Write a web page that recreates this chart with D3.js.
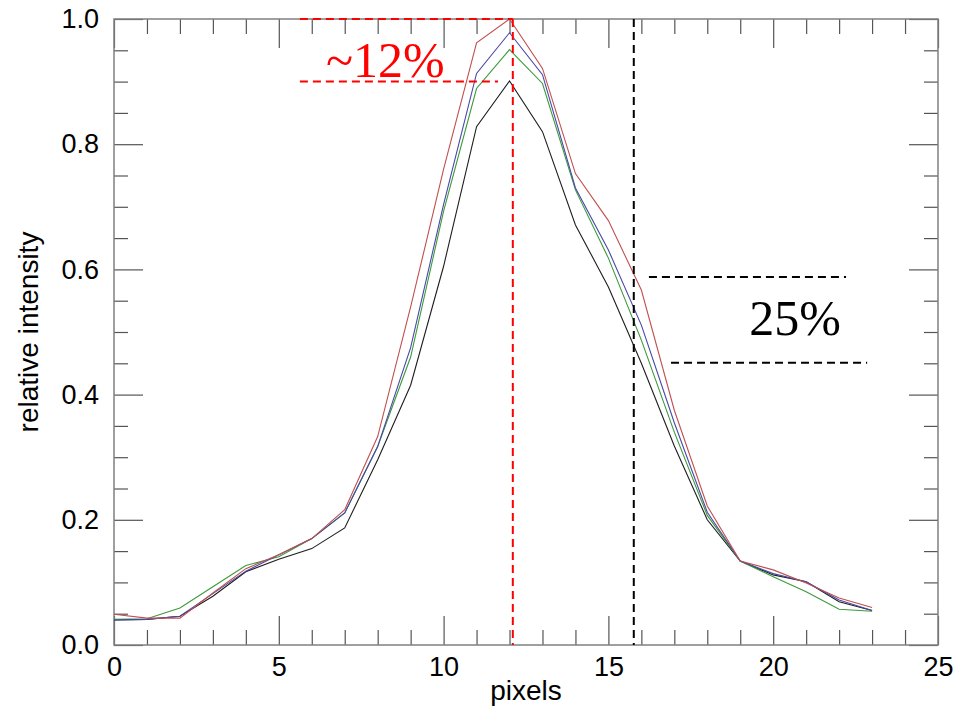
<!DOCTYPE html>
<html>
<head>
<meta charset="utf-8">
<script src="https://cdn.jsdelivr.net/npm/d3@7/dist/d3.min.js"></script>
<style>
  html, body { margin: 0; padding: 0; background: #fff; }
  svg { display: block; }
</style>
</head>
<body>
<svg id="chart" width="964" height="713"></svg>
<script>
// ---- data ----
const pixels = [0,1,2,3,4,5,6,7,8,9,10,11,12,13,14,15,16,17,18,19,20,21,22,23];
const redSeries   = [0.049,0.043,0.043,0.083,0.122,0.144,0.170,0.216,0.333,0.540,0.760,0.962,1.000,0.921,0.753,0.678,0.567,0.375,0.222,0.134,0.120,0.099,0.075,0.060];
const blueSeries  = [0.040,0.041,0.046,0.082,0.118,0.144,0.170,0.211,0.317,0.475,0.704,0.913,0.978,0.911,0.730,0.631,0.511,0.355,0.212,0.134,0.114,0.101,0.072,0.055];
const greenSeries = [0.041,0.042,0.059,0.093,0.127,0.141,0.170,0.211,0.317,0.460,0.693,0.889,0.951,0.897,0.727,0.618,0.487,0.340,0.207,0.134,0.109,0.085,0.057,0.054];
const blackSeries = [0.040,0.041,0.046,0.078,0.117,0.137,0.154,0.187,0.296,0.415,0.605,0.828,0.901,0.820,0.671,0.572,0.450,0.318,0.200,0.134,0.112,0.101,0.069,0.055];

const xMajorTicks = [0,5,10,15,20,25];
const xMinorTicks = [1,2,3,4,6,7,8,9,11,12,13,14,16,17,18,19,21,22,23,24];
const yMajorTicks = [0.0,0.2,0.4,0.6,0.8,1.0];
const yMinorTicks = [0.05,0.1,0.15,0.25,0.3,0.35,0.45,0.5,0.55,0.65,0.7,0.75,0.85,0.9,0.95];

// annotation lines in data coordinates: [x1, y1, x2, y2]
const redGuides   = [[5.64,1.0,12.1,1.0],[5.64,0.9,11.65,0.9],[12.1,1.0,12.1,0.0]];
const blackGuides = [[15.77,1.0,15.77,0.0],[16.23,0.588,22.21,0.588],[16.9,0.451,22.85,0.451]];
const annoTexts   = [{t:"~12%", x:6.43, y:0.907, c:"#ff0000"},{t:"25%", x:19.27, y:0.495, c:"#000000"}];

// ---- layout ----
const svg = d3.select("#chart");
const L = 114, R = 938, T = 19, B = 645;
const x = d3.scaleLinear().domain([0,25]).range([L,R]);
const y = d3.scaleLinear().domain([0,1]).range([B,T]);
const tickColor = "#555";
const font = "'Liberation Sans', Arial, Helvetica, sans-serif";

function styleAxis(g){
  g.select(".domain").remove();
  g.selectAll(".tick line").attr("stroke", tickColor).attr("stroke-width", 1.2);
  g.selectAll(".tick text").attr("fill","#000").style("font-family", font).style("font-size","27px");
}

// bottom
svg.append("g").attr("transform",`translate(0,${B})`)
  .call(d3.axisBottom(x).tickValues(xMajorTicks).tickSize(-29).tickPadding(12).tickFormat(d3.format("d")))
  .call(styleAxis);
svg.append("g").attr("transform",`translate(0,${B})`)
  .call(d3.axisBottom(x).tickValues(xMinorTicks).tickSize(-15).tickFormat(""))
  .call(styleAxis);
// top
svg.append("g").attr("transform",`translate(0,${T})`)
  .call(d3.axisTop(x).tickValues(xMajorTicks).tickSize(-29).tickFormat(""))
  .call(styleAxis);
svg.append("g").attr("transform",`translate(0,${T})`)
  .call(d3.axisTop(x).tickValues(xMinorTicks).tickSize(-15).tickFormat(""))
  .call(styleAxis);
// left
svg.append("g").attr("transform",`translate(${L},0)`)
  .call(d3.axisLeft(y).tickValues(yMajorTicks).tickSize(-29).tickPadding(15).tickFormat(d3.format(".1f")))
  .call(styleAxis);
svg.append("g").attr("transform",`translate(${L},0)`)
  .call(d3.axisLeft(y).tickValues(yMinorTicks).tickSize(-14).tickFormat(""))
  .call(styleAxis);
// right
svg.append("g").attr("transform",`translate(${R},0)`)
  .call(d3.axisRight(y).tickValues(yMajorTicks).tickSize(-29).tickFormat(""))
  .call(styleAxis);
svg.append("g").attr("transform",`translate(${R},0)`)
  .call(d3.axisRight(y).tickValues(yMinorTicks).tickSize(-14).tickFormat(""))
  .call(styleAxis);

// frame
svg.append("rect").attr("x",L).attr("y",T).attr("width",R-L).attr("height",B-T)
  .attr("fill","none").attr("stroke","#808080").attr("stroke-width",1.5);

// axis titles
svg.append("text").attr("x",(L+R)/2).attr("y",700).attr("text-anchor","middle")
  .style("font-family",font).style("font-size","28px").text("pixels");
svg.append("text").attr("transform",`translate(38,${(T+B)/2}) rotate(-90)`).attr("text-anchor","middle")
  .style("font-family",font).style("font-size","28px").text("relative intensity");

// series
const line = d3.line().x((d,i)=>x(pixels[i])).y(d=>y(d));
const series = [
  {v: blackSeries, c:"#1e1e1e"},
  {v: greenSeries, c:"#3c9a3c"},
  {v: blueSeries,  c:"#4848a8"},
  {v: redSeries,   c:"#c05050"}
];
svg.append("g").selectAll("path").data(series).join("path")
  .attr("d", d=>line(d.v)).attr("fill","none").attr("stroke",d=>d.c).attr("stroke-width",1.1);

// guides
function drawGuides(arr, color){
  svg.append("g").selectAll("line").data(arr).join("line")
    .attr("x1",d=>x(d[0])).attr("y1",d=>y(d[1])).attr("x2",d=>x(d[2])).attr("y2",d=>y(d[3]))
    .attr("stroke",color).attr("stroke-width",2).attr("stroke-dasharray","8,5");
}
drawGuides(redGuides, "#ff0000");
drawGuides(blackGuides, "#000000");

svg.append("g").selectAll("text").data(annoTexts).join("text")
  .attr("x",d=>x(d.x)).attr("y",d=>y(d.y)).attr("fill",d=>d.c)
  .style("font-family","'Liberation Serif','Times New Roman',serif").style("font-size","50px")
  .text(d=>d.t);
</script>
</body>
</html>
